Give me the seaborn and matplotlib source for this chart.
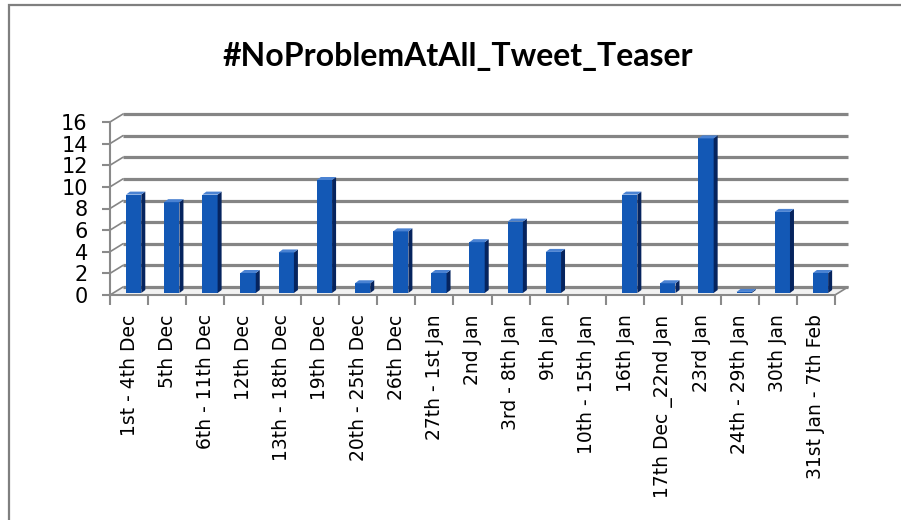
import matplotlib
matplotlib.use("Agg")
import matplotlib.pyplot as plt
import seaborn as sns
import numpy as np
from matplotlib.patches import Polygon, Rectangle

categories = ["1st - 4th Dec", "5th Dec", "6th - 11th Dec", "12th Dec", "13th - 18th Dec",
              "19th Dec", "20th - 25th Dec", "26th Dec", "27th - 1st Jan", "2nd Jan",
              "3rd - 8th Jan", "9th Jan", "10th - 15th Jan", "16th Jan", "17th Dec _22nd Jan",
              "23rd Jan", "24th - 29th Jan", "30th Jan", "31st Jan - 7th Feb"]
tweets = [9.1, 8.4, 9.1, 1.85, 3.75, 10.45, 0.9, 5.7, 1.85, 4.7, 6.6, 3.8, 0, 9.1, 0.9, 14.3, 0.1, 7.5, 1.85]
y_ticks = [0, 2, 4, 6, 8, 10, 12, 14, 16]
title = "#NoProblemAtAll_Tweet_Teaser"

sns.set_theme(style="white")
plt.rcParams['font.family'] = ['DejaVu Sans']

W, H = 901, 520
fig = plt.figure(figsize=(W / 100, H / 100), dpi=100)
ax = fig.add_axes([110 / W, 1 - 295 / H, 725 / W, 173 / H])

front = "#1358B5"
side = "#06245E"
top = "#4A82D2"
grid_c = "#858585"

sns.barplot(x=categories, y=tweets, color=front, width=0.40, saturation=1, ax=ax, zorder=3)

n = len(categories)
ax.set_xlim(-0.5, n - 0.5)
ax.set_ylim(0, 16)

# pixel -> data scale factors
px_x = (n) / 725.0
px_y = 16 / 173.0
dxb, dyb = 13 * px_x, 8 * px_y     # back wall offset
dxs, dys = 4 * px_x, 3 * px_y      # bar depth
lift = 2 * px_y                    # bars sit slightly behind the front edge

# back wall gridlines and left wall diagonals
for v in y_ticks:
    ax.plot([-0.5 + dxb, n - 0.5 + dxb], [v + dyb, v + dyb], color=grid_c, lw=2.3,
            clip_on=False, zorder=1, solid_capstyle="butt")
    ax.plot([-0.5, -0.5 + dxb], [v, v + dyb], color=grid_c, lw=1.2, clip_on=False, zorder=1)
# floor
ax.add_patch(Polygon([(-0.5, 0), (n - 0.5, 0), (n - 0.5 + dxb, dyb), (-0.5 + dxb, dyb)],
                     closed=True, facecolor="#f2f2f2", edgecolor="none", zorder=0.5, clip_on=False))
ax.plot([n - 0.5, n - 0.5 + dxb], [0, dyb], color=grid_c, lw=1.2, clip_on=False, zorder=1)

# 3D faces of the bars
for p in ax.patches:
    if not hasattr(p, "get_height") or p.get_width() > 1:
        continue
    x0 = p.get_x() + 0.12
    p.set_x(x0)
    w = p.get_width()
    h = p.get_height()
    p.set_edgecolor("none")
    if h <= 0:
        continue
    p.set_y(lift)
    p.set_clip_on(False)
    x1 = x0 + w
    y0, y1 = lift, lift + h
    ax.add_patch(Polygon([(x1, y0), (x1 + dxs, y0 + dys), (x1 + dxs, y1 + dys), (x1, y1)], closed=True,
                         facecolor=side, edgecolor="none", zorder=3, clip_on=False))
    ax.add_patch(Polygon([(x0, y1), (x1, y1), (x1 + dxs, y1 + dys), (x0 + dxs, y1 + dys)], closed=True,
                         facecolor=top, edgecolor="none", zorder=3, clip_on=False))

# axes styling
for s in ["top", "right"]:
    ax.spines[s].set_visible(False)
for s in ["left", "bottom"]:
    ax.spines[s].set_color("#8a8a8a")
    ax.spines[s].set_linewidth(1.5)
    ax.spines[s].set_zorder(2)

ax.set_yticks(y_ticks)
ax.set_yticklabels([str(v) for v in y_ticks], fontsize=15)
ax.tick_params(axis="y", length=6, width=1.5, color="#8a8a8a", left=True, pad=10, labelcolor="black")
ax.set_xticks(range(n))
ax.set_xticklabels(categories, rotation=90, fontsize=13.5, ha="center", va="top")
ax.tick_params(axis="x", length=0, pad=14, labelcolor="black")
ax.set_xticks(np.arange(-0.5, n, 1.0), minor=True)
ax.tick_params(axis="x", which="minor", length=7, width=1.5, color="#8a8a8a", bottom=True)
ax.set_xlabel("")
ax.set_ylabel("")
ax.grid(False)
ax.set_facecolor("none")

fig.text(458 / W, 1 - 56 / H, title, ha="center", va="center", fontsize=23,
         fontweight="bold", family=["Lato", "DejaVu Sans"], color="black")

# outer frame
fig.add_artist(Rectangle((9 / W, -0.1), 1.2, 1 - 5 / H + 0.1, transform=fig.transFigure,
                         facecolor="none", edgecolor="#7f7f7f", lw=1.6))

fig.savefig("out.png", dpi=100)
